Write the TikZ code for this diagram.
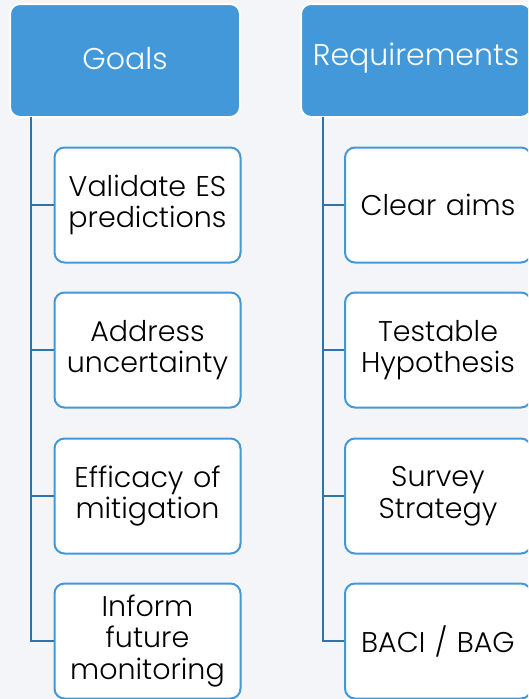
\documentclass[tikz,border=0pt]{standalone}
\usepackage{fontspec}
\setmainfont[Ligatures=NoCommon]{Poppins Light}
\definecolor{bgc}{HTML}{F4F5F8}
\definecolor{headc}{HTML}{4298D9}
\definecolor{linec}{HTML}{2F73AE}
\begin{document}
\begin{tikzpicture}[x=1pt,y=-1pt,
  head/.style={draw=white,line width=2pt,fill=headc,rounded corners=10pt,text=white,
    minimum width=230pt,minimum height=113pt,anchor=north west,inner sep=0pt,
    font=\fontsize{30}{32}\selectfont},
  headtext/.style={text=white,inner sep=0pt,font=\fontsize{30}{32}\selectfont},
  child/.style={draw=headc,line width=2pt,fill=white,rounded corners=10pt,text=black,
    minimum width=186pt,minimum height=115pt,text width=184pt,align=center,inner sep=0pt,
    font=\fontsize{28.5}{31.5}\selectfont},
  conn/.style={draw=linec,line width=2.5pt}]
\useasboundingbox (0,0) rectangle (528,699);
\clip (0,0) rectangle (528,699);
\fill[bgc] (0,0) rectangle (528,699);
\node[head] (g) at (9,3) {};
\node[head] (r) at (300,3) {};
\node[headtext] (gt) at ([yshift=2pt]g.center) {Goals};
\node[headtext] (rt) at ([yshift=2pt]r.center) {Requirements};
\node[child] (g1) at (147.5,205) {Validate ES\\predictions};
\node[child] (g2) at (147.5,350) {Address\\uncertainty};
\node[child] (g3) at (147.5,496) {Efficacy of\\mitigation};
\node[child] (g4) at (147.5,641) {Inform\\future\\monitoring};
\node[child] (r1) at (438,205) {Clear aims};
\node[child] (r2) at (438,350) {Testable\\Hypothesis};
\node[child] (r3) at (438,496) {Survey\\Strategy};
\node[child] (r4) at (438,641) {BACI / BAG};
\coordinate (gs) at (31,117);
\coordinate (rs) at (323,117);
\foreach \c in {g1,g2,g3,g4}{\draw[conn] (gs) |- (\c.west);}
\foreach \c in {r1,r2,r3,r4}{\draw[conn] (rs) |- (\c.west);}
\end{tikzpicture}
\end{document}
